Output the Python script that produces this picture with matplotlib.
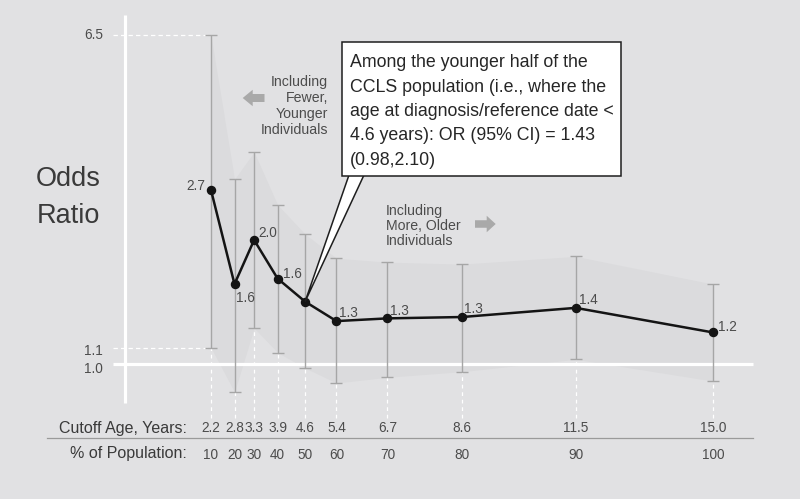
import numpy as np
import matplotlib
matplotlib.use("Agg")
import matplotlib.pyplot as plt
from matplotlib.patches import Polygon, Rectangle

# ---------------- data ----------------
ages = [2.2, 2.8, 3.3, 3.9, 4.6, 5.4, 6.7, 8.6, 11.5, 15.0]
pct = [10, 20, 30, 40, 50, 60, 70, 80, 90, 100]
odds = [2.70, 1.58, 2.03, 1.63, 1.43, 1.28, 1.30, 1.31, 1.38, 1.20]
ci_low = [1.10, 0.855, 1.23, 1.07, 0.98, 0.90, 0.93, 0.96, 1.03, 0.91]
ci_high = [6.50, 2.87, 3.35, 2.48, 2.10, 1.83, 1.79, 1.77, 1.85, 1.58]
point_labels = ["2.7", "1.6", "2.0", "1.6", "", "1.3", "1.3", "1.3", "1.4", "1.2"]
age_labels = ["2.2", "2.8", "3.3", "3.9", "4.6", "5.4", "6.7", "8.6", "11.5", "15.0"]
pct_labels = ["10", "20", "30", "40", "50", "60", "70", "80", "90", "100"]
ref_value = 1.0
callout_lines = ["Among the younger half of the",
                 "CCLS population (i.e., where the",
                 "age at diagnosis/reference date <",
                 "4.6 years): OR (95% CI) = 1.43",
                 "(0.98,2.10)"]

# ---------------- style ----------------
plt.rcParams['font.family'] = ['Liberation Sans', 'DejaVu Sans']
BG = '#e1e1e3'
BAND = '#dbdbdd'
TXT = '#3a3a3a'
TXT2 = '#4c4c4c'
W, H = 800, 499

fig = plt.figure(figsize=(8, 4.99), dpi=100, facecolor=BG)
ax = fig.add_axes([0, 0, 1, 1])
ax.set_facecolor(BG)
ax.set_yscale('log')
ax.set_xlim(-3.179, 17.218)
ax.set_ylim(0.4653, 7.951)
ax.axis('off')

def px_x(x):
    return (x - 124.7) / 39.22

def px_y(y):
    return float(np.exp((364.5 - y) / 175.8))

def fx(x):
    return x / W

def fy(y):
    return 1 - y / H

ages_a = np.array(ages)
odds_a = np.array(odds)
lo_a = np.array(ci_low)
hi_a = np.array(ci_high)

# confidence band
ax.fill_between(ages_a, lo_a, hi_a, color=BAND, lw=0, zorder=1)

# reference lines (white)
ax.plot([px_x(113), px_x(753)], [ref_value, ref_value], color='white', lw=2.3,
        solid_capstyle='butt', zorder=2)
ax.plot([0, 0], [px_y(15), px_y(403)], color='white', lw=2.3,
        solid_capstyle='butt', zorder=2)
for v in (ci_high[0], ci_low[0]):
    ax.plot([px_x(113), ages[0]], [v, v], color='white', lw=0.9,
            dashes=(3.5, 2.5), zorder=2)
for a, lo in zip(ages, ci_low):
    ax.plot([a, a], [px_y(418), lo], color='white', lw=0.9, dashes=(3, 3), zorder=2)

# y reference labels
for v, off in ((ci_high[0], 0), (ci_low[0], -3), (ref_value, -4.5)):
    ax.annotate(f"{v:.1f}", (px_x(103), v), xytext=(0, off), textcoords='offset pixels',
                ha='right', va='center', fontsize=9.8, color=TXT2)

# error bars
ax.errorbar(ages_a, odds_a, yerr=[odds_a - lo_a, hi_a - odds_a], fmt='none',
            ecolor='#a6a6a6', elinewidth=1.0, capsize=4, capthick=1.0, zorder=3)

# main line
ax.plot(ages_a, odds_a, color='#141414', lw=1.8, marker='o', ms=5.8,
        markerfacecolor='#141414', markeredgecolor='#141414', zorder=5)

# point labels
offsets = [(-6, 4, 'right'), (1, -14, 'left'), (4, 7, 'left'), (5, 5, 'left'), (0, 0, 'left'),
           (3, 8, 'left'), (3, 7, 'left'), (2, 8, 'left'), (3, 8, 'left'), (5, 5, 'left')]
for a, o, lab, (dx, dy, ha) in zip(ages, odds, point_labels, offsets):
    if lab:
        ax.annotate(lab, (a, o), xytext=(dx, dy), textcoords='offset pixels',
                    ha=ha, va='center', fontsize=9.8, color=TXT2, zorder=6)

# Odds Ratio title
fig.text(fx(68), fy(186), "Odds", ha='center', va='baseline', fontsize=19.5, color=TXT)
fig.text(fx(68), fy(223), "Ratio", ha='center', va='baseline', fontsize=19.5, color=TXT)

# direction notes
for txt, yb in zip(["Including", "Fewer,", "Younger", "Individuals"], [85.7, 101.7, 117.7, 134.3]):
    fig.text(fx(328), fy(yb), txt, ha='right', va='baseline', fontsize=10.2, color=TXT2)
for txt, yb in zip(["Including", "More, Older", "Individuals"], [215, 230, 245]):
    fig.text(fx(386), fy(yb), txt, ha='left', va='baseline', fontsize=10.2, color=TXT2)

def fat_arrow(x_tail, x_tip, yc, body=8.0, head=16.5, head_len=10.0):
    s = 1 if x_tip > x_tail else -1
    xb = x_tip - s * head_len
    pts = [(x_tail, yc - body / 2), (xb, yc - body / 2), (xb, yc - head / 2), (x_tip, yc),
           (xb, yc + head / 2), (xb, yc + body / 2), (x_tail, yc + body / 2)]
    poly = Polygon([(fx(x), fy(y)) for x, y in pts], closed=True, transform=fig.transFigure,
                   fc='#a9a9a9', ec='none', zorder=4)
    fig.patches.append(poly)

fat_arrow(264.5, 242.7, 98)
fat_arrow(475, 495.7, 224, body=7.5, head_len=9)

# callout box with pointer
fig.canvas.draw()
tip_disp = ax.transData.transform((ages[4], odds[4]))
tip = fig.transFigure.inverted().transform(tip_disp)
wedge = Polygon([(fx(349), fy(175)), (tip[0], tip[1]), (fx(364), fy(175))], closed=True,
                transform=fig.transFigure, fc='white', ec='#1e1e1e', lw=1.1, zorder=9)
fig.patches.append(wedge)
box = Rectangle((fx(342), fy(176)), (621 - 342) / W, (176 - 42) / H, transform=fig.transFigure,
                fc='white', ec='#1e1e1e', lw=1.1, zorder=10)
fig.patches.append(box)
for i, line in enumerate(callout_lines):
    fig.text(fx(350), fy(67 + 24.5 * i), line, ha='left', va='baseline',
             fontsize=12.8, color='#262626', zorder=11)

# bottom table
fig.text(fx(187), fy(433.3), "Cutoff Age, Years:", ha='right', va='baseline',
         fontsize=11.5, color=TXT)
fig.text(fx(187), fy(458.3), "% of Population:", ha='right', va='baseline',
         fontsize=11.5, color=TXT)
ax.plot([px_x(47), px_x(753)], [px_y(438.3)] * 2, color='#9a9a9a', lw=0.9, zorder=2)
for a, al, pl in zip(ages, age_labels, pct_labels):
    xf = fig.transFigure.inverted().transform(ax.transData.transform((a, 1.0)))[0]
    fig.text(xf, fy(432.3), al, ha='center', va='baseline', fontsize=9.8, color=TXT2)
    fig.text(xf, fy(459), pl, ha='center', va='baseline', fontsize=9.8, color=TXT2)

fig.savefig("out.png", dpi=100, facecolor=BG)
